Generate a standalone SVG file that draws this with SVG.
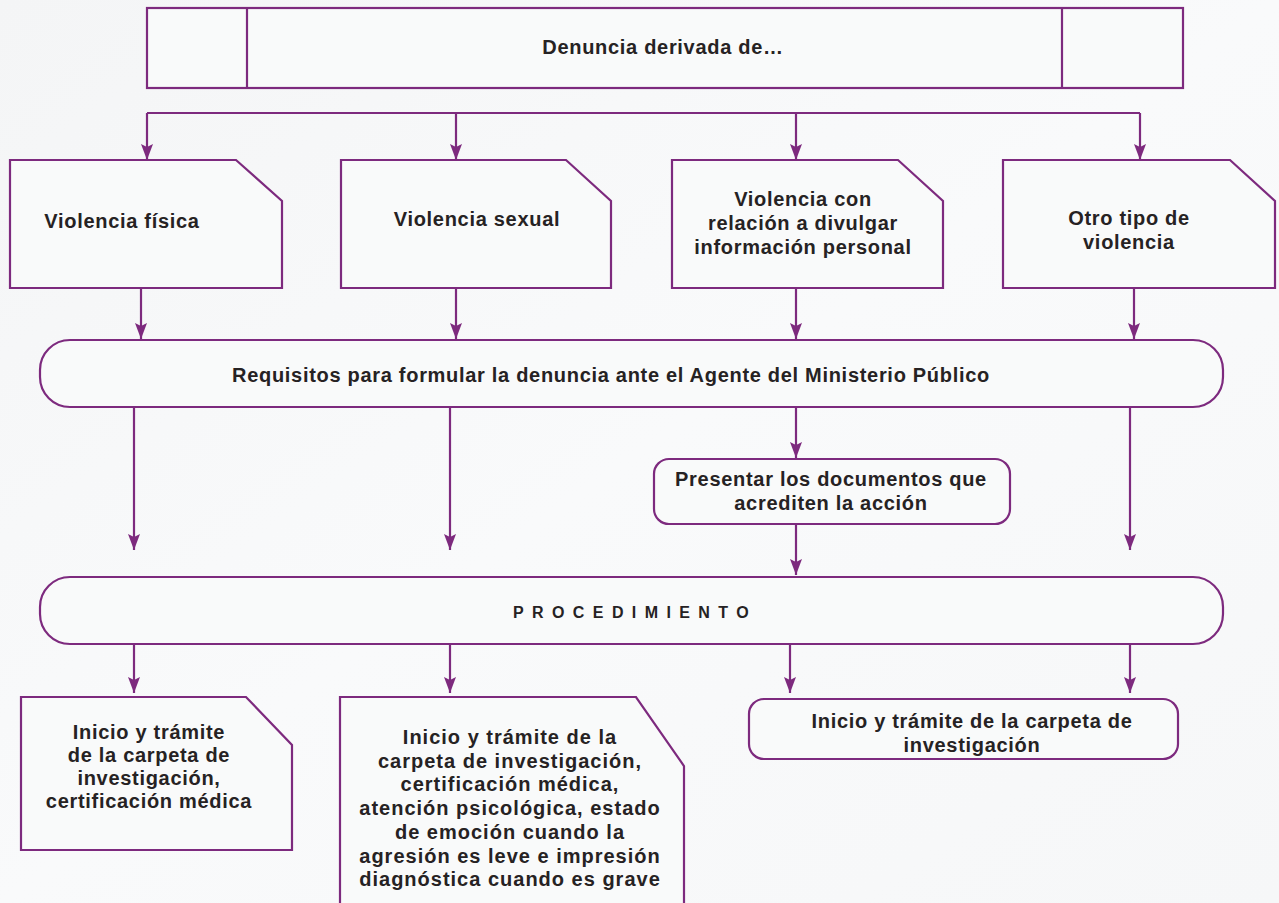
<svg xmlns="http://www.w3.org/2000/svg" width="1279" height="903" viewBox="0 0 1279 903">
<defs>
<marker id="ah" markerUnits="userSpaceOnUse" markerWidth="16" markerHeight="12" refX="16" refY="6" orient="auto" viewBox="0 0 16 12">
<path d="M0,0 L16,6 L0,12 L3,6 Z" fill="#7d2a7e"/>
</marker>
<linearGradient id="bg" x1="0" y1="0" x2="1" y2="1">
<stop offset="0" stop-color="#f4f5f6"/>
<stop offset="0.5" stop-color="#f9fafb"/>
<stop offset="1" stop-color="#f6f7f8"/>
</linearGradient>
<style>
.box{fill:#f9fafa;stroke:#7d2a7e;stroke-width:2.2}
.ln{fill:none;stroke:#7d2a7e;stroke-width:2.2}
.arr{fill:none;stroke:#7d2a7e;stroke-width:2.2;marker-end:url(#ah)}
text{font-family:"Liberation Sans",Arial,sans-serif;font-weight:bold;font-size:20px;letter-spacing:0.7px;fill:#262223;text-anchor:middle}
.sp{font-size:16px;letter-spacing:8.4px;text-anchor:start}
.wide{letter-spacing:1px}
</style>
</defs>
<rect width="1279" height="903" fill="url(#bg)"/>

<g id="n-denuncia">
<rect class="box" x="147" y="8" width="1036" height="80"/>
<line class="ln" x1="247" y1="8" x2="247" y2="88"/>
<line class="ln" x1="1062" y1="8" x2="1062" y2="88"/>
<text x="663" y="54">Denuncia derivada de…</text>
</g>

<g id="n-fisica">
<path class="box" d="M10,160 H236 L282,201 V288 H10 Z"/>
<text x="122" y="228">Violencia física</text>
</g>
<g id="n-sexual">
<path class="box" d="M341,160 H566 L611,201 V288 H341 Z"/>
<text x="477" y="226">Violencia sexual</text>
</g>
<g id="n-divulgar">
<path class="box" d="M672,160 H898 L943,201 V288 H672 Z"/>
<text x="803" y="206">Violencia con<tspan x="803" dy="24">relación a divulgar</tspan><tspan x="803" dy="24">información personal</tspan></text>
</g>
<g id="n-otro">
<path class="box" d="M1003,160 H1230 L1275,201 V288 H1003 Z"/>
<text x="1129" y="225">Otro tipo de<tspan x="1129" dy="24">violencia</tspan></text>
</g>

<g id="n-requisitos">
<rect class="box" x="40" y="340" width="1183" height="67" rx="30" ry="30"/>
<text x="611" y="382">Requisitos para formular la denuncia ante el Agente del Ministerio Público</text>
</g>

<g id="n-presentar">
<rect class="box" x="654" y="459" width="356" height="65" rx="15" ry="15"/>
<text x="831" y="486">Presentar los documentos que<tspan x="831" dy="24">acrediten la acción</tspan></text>
</g>

<g id="n-procedimiento">
<rect class="box" x="40" y="577" width="1183" height="67" rx="30" ry="30"/>
<text class="sp" x="513" y="618">PROCEDIMIENTO</text>
</g>

<g id="n-fin1">
<path class="box" d="M21,697 H246 L292,745 V850 H21 Z"/>
<text x="149" y="739">Inicio y trámite<tspan x="149" dy="23">de la carpeta de</tspan><tspan x="149" dy="23">investigación,</tspan><tspan x="149" dy="23">certificación médica</tspan></text>
</g>
<g id="n-fin2">
<path class="box" d="M340,697 H636 L684,766 V910 H340 Z"/>
<text class="wide" x="510" y="744">Inicio y trámite de la<tspan x="510" dy="24">carpeta de investigación,</tspan><tspan x="510" dy="23">certificación médica,</tspan><tspan x="510" dy="24">atención psicológica, estado</tspan><tspan x="510" dy="24">de emoción cuando la</tspan><tspan x="510" dy="24">agresión es leve e impresión</tspan><tspan x="510" dy="23">diagnóstica cuando es grave</tspan></text>
</g>
<g id="n-fin3">
<rect class="box" x="749" y="699" width="429" height="60" rx="15" ry="15"/>
<text x="972" y="728">Inicio y trámite de la carpeta de<tspan x="972" dy="24">investigación</tspan></text>
</g>

<g id="connectors">
<path class="ln" d="M147,113 H1140"/>
<path class="arr" d="M147,113 V160"/>
<path class="arr" d="M456,113 V160"/>
<path class="arr" d="M796,113 V160"/>
<path class="arr" d="M1140,113 V160"/>
<path class="arr" d="M141,288 V339"/>
<path class="arr" d="M456,288 V339"/>
<path class="arr" d="M796,288 V339"/>
<path class="arr" d="M1134,288 V339"/>
<path class="arr" d="M134,407 V550"/>
<path class="arr" d="M450,407 V550"/>
<path class="arr" d="M796,407 V458"/>
<path class="arr" d="M1130,407 V550"/>
<path class="arr" d="M796,524 V575"/>
<path class="arr" d="M134,644 V693"/>
<path class="arr" d="M450,644 V693"/>
<path class="arr" d="M790,644 V693"/>
<path class="arr" d="M1130,644 V693"/>
</g>
</svg>
